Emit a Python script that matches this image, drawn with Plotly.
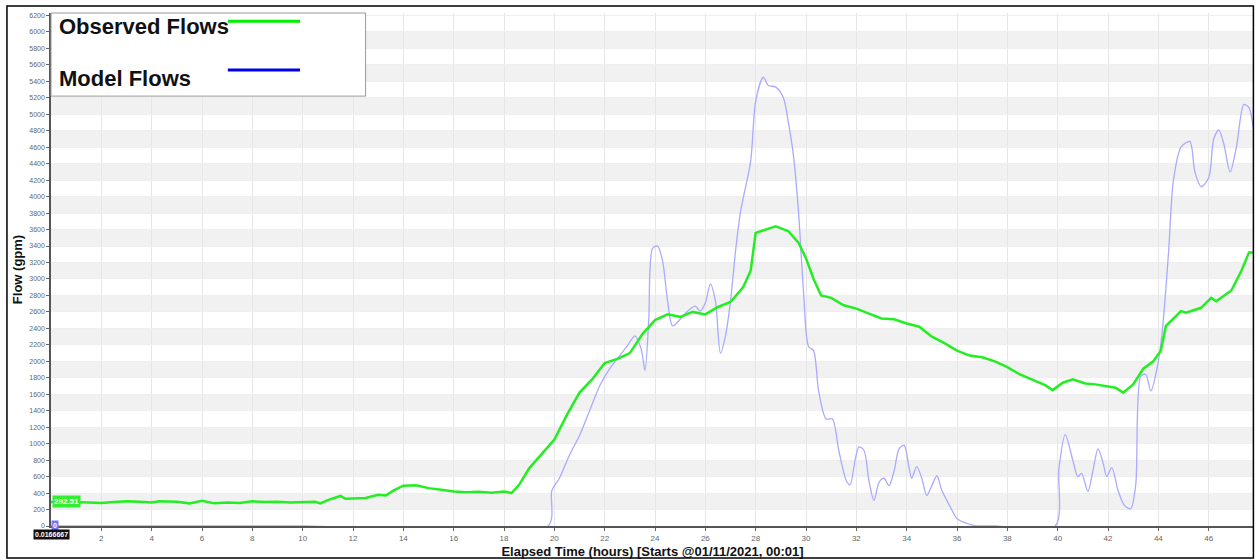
import plotly.graph_objects as go

# Observed flows (gpm) vs elapsed time (hours)
obs_hours = [0, 0.5, 1, 1.5, 2, 2.5, 3, 3.5, 4, 4.3, 5, 5.5, 6, 6.5, 7, 7.5, 8, 8.5, 9, 9.5,
             10, 10.5, 10.7, 11, 11.5, 11.7, 12, 12.5, 13, 13.3, 13.6, 14, 14.5, 15, 15.5, 16,
             16.5, 17, 17.5, 18, 18.3, 18.6, 19, 19.5, 20, 20.5, 21, 21.5, 22, 22.5, 23, 23.5,
             24, 24.5, 25, 25.5, 26, 26.5, 27, 27.5, 27.8, 28, 28.4, 28.8, 29.3, 29.7, 30, 30.3,
             30.6, 31, 31.5, 32, 32.5, 33, 33.5, 34, 34.5, 35, 35.5, 36, 36.5, 37, 37.5, 38,
             38.5, 39, 39.5, 39.8, 40.2, 40.6, 41.1, 41.5, 41.9, 42.3, 42.6, 43, 43.4, 43.8,
             44.1, 44.3, 44.9, 45.1, 45.7, 46.1, 46.3, 46.9, 47.3, 47.6, 47.8]
obs_flow = [292.51, 295, 290, 285, 280, 290, 300, 295, 285, 300, 295, 275, 305, 275, 285, 280,
            300, 290, 295, 285, 290, 295, 275, 315, 365, 330, 335, 340, 380, 370, 430, 490,
            495, 460, 440, 420, 410, 415, 405, 420, 400, 500, 700, 880, 1050, 1350, 1620, 1780,
            1980, 2030, 2100, 2330, 2500, 2570, 2540, 2600, 2570, 2660, 2720, 2900, 3100, 3560,
            3600, 3640, 3580, 3440, 3250, 3000, 2800, 2770, 2680, 2640, 2580, 2520, 2510, 2460,
            2420, 2300, 2220, 2130, 2070, 2050, 2000, 1930, 1840, 1770, 1710, 1650, 1740, 1780,
            1730, 1720, 1700, 1680, 1620, 1720, 1910, 2000, 2130, 2430, 2610, 2590, 2650, 2770,
            2730, 2860, 3100, 3320, 3320]

# Model flows (gpm)
mod_hours = [0, 10, 19.75, 19.9, 20.2, 20.6, 21.0, 21.4, 21.8, 22.2, 22.6, 22.9, 23.2, 23.45,
             23.6, 23.75, 23.9, 24.1, 24.3, 24.5, 24.7, 25.0, 25.3, 25.6, 25.8, 26.0, 26.2,
             26.4, 26.6, 26.8, 27.0, 27.2, 27.4, 27.8, 28.0, 28.3, 28.5, 28.8, 29.1, 29.3, 29.5,
             29.7, 29.9, 30.1, 30.3, 30.5, 30.8, 31.05, 31.3, 31.6, 31.75, 31.95, 32.1, 32.3,
             32.5, 32.7, 32.9, 33.1, 33.3, 33.5, 33.7, 33.9, 34.1, 34.2, 34.4, 34.6, 34.8, 35.0,
             35.2, 35.4, 35.7, 36.0, 36.3, 36.7, 37.5, 39.9, 40.05, 40.3, 40.6, 40.8, 40.95,
             41.2, 41.4, 41.6, 41.8, 41.95, 42.15, 42.4, 42.65, 42.9, 43.1, 43.3, 43.5, 43.7,
             43.95, 44.15, 44.4, 44.6, 44.9, 45.25, 45.45, 45.7, 46.0, 46.2, 46.4, 46.6, 46.85,
             47.1, 47.4, 47.6, 47.8]
mod_flow = [0, 0, 0, 430, 580, 860, 1100, 1400, 1700, 1910, 2070, 2190, 2310, 2150,
            1890, 2490, 3370, 3400, 3220, 2730, 2430, 2510, 2610, 2670, 2610, 2710, 2940,
            2730, 2100, 2310, 2730, 3340, 3820, 4430, 5160, 5450, 5350, 5330, 5200, 4900, 4500,
            3820, 2850, 2180, 2130, 1640, 1300, 1300, 920, 550, 500, 800, 960, 920,
            550, 310, 530, 580, 490, 670, 940, 980, 700, 580, 720, 580, 370, 490,
            610, 430, 250, 90, 40, 5, 0, 0, 700, 1110, 800, 600, 640,
            420, 670, 940, 770, 600, 710, 430, 250, 210, 500, 1820, 1840, 1640,
            1920, 2350, 3300, 4200, 4600, 4670, 4300, 4120, 4230, 4700, 4810, 4640, 4300,
            4600, 5120, 5080, 4760]

start_time_label = "0.0166667"
y_ticks = list(range(0, 6201, 200))
x_ticks = list(range(2, 47, 2))

FONT = "Liberation Sans, Arial, sans-serif"

fig = go.Figure()

# alternating grey bands
band_shapes = []
for lo in range(200, 6200, 400):
    band_shapes.append(dict(type="rect", xref="paper", yref="y", x0=0, x1=1, y0=lo, y1=lo + 200,
                            fillcolor="#f1f1f1", line=dict(width=0), layer="below"))

fig.add_trace(go.Scatter(x=mod_hours, y=mod_flow, mode="lines", name="Model Flows",
                         line=dict(color="#aaaaff", width=1.3, shape="spline", smoothing=0.8),
                         showlegend=False))
fig.add_trace(go.Scatter(x=obs_hours, y=obs_flow, mode="lines", name="Observed Flows",
                         line=dict(color="#22ee22", width=2.5), showlegend=False))

shapes = band_shapes + [
    # outer frame
    dict(type="rect", xref="paper", yref="paper", x0=-0.0366, x1=0.9995, y0=-0.0624, y1=1.0137,
         line=dict(color="black", width=1.5), fillcolor="rgba(0,0,0,0)"),
    # legend box
    dict(type="rect", xref="paper", yref="paper", x0=0, x1=0.2615, y0=0.838, y1=1.0,
         line=dict(color="#999999", width=1), fillcolor="white", layer="above"),
    dict(type="line", xref="paper", yref="paper", x0=0.147, x1=0.207, y0=0.984, y1=0.984,
         line=dict(color="#00ee00", width=3), layer="above"),
    dict(type="line", xref="paper", yref="paper", x0=0.147, x1=0.207, y0=0.889, y1=0.889,
         line=dict(color="#0000ee", width=3), layer="above"),
]

annotations = [
    dict(text="<b>Observed Flows</b>", xref="paper", yref="paper", x=0.005, y=0.973,
         xanchor="left", yanchor="middle", showarrow=False,
         font=dict(family=FONT, size=22, color="#111111")),
    dict(text="<b>Model Flows</b>", xref="paper", yref="paper", x=0.005, y=0.873,
         xanchor="left", yanchor="middle", showarrow=False,
         font=dict(family=FONT, size=22, color="#111111")),
    dict(text=f"<b>{obs_flow[0]:.2f}</b>", x=obs_hours[0], y=obs_flow[0],
         xanchor="left", yanchor="middle", xshift=1, showarrow=False, bgcolor="#33ee33",
         font=dict(family=FONT, size=8, color="white"), borderpad=1),
    dict(text=f"<b>{mod_flow[0]}</b>", x=mod_hours[0], y=mod_flow[0], xanchor="left",
         yanchor="middle", xshift=0, yshift=1, showarrow=False, bgcolor="#7777ff",
         font=dict(family=FONT, size=7, color="white"), borderpad=1),
    dict(text=f"<b>{start_time_label}</b>", x=0, xref="x", y=0, yref="paper", xanchor="center",
         yanchor="top", yshift=-3, showarrow=False, bgcolor="#111111",
         font=dict(family=FONT, size=7, color="white"), borderpad=1),
]

fig.update_layout(
    width=1257, height=560,
    margin=dict(l=51, r=3, t=13, b=34),
    paper_bgcolor="white", plot_bgcolor="white",
    shapes=shapes, annotations=annotations,
    showlegend=False,
    xaxis=dict(range=[0, 47.8], tickvals=x_ticks, ticks="outside", ticklen=3,
               tickcolor="#666666", showline=True, linecolor="#555555", linewidth=2,
               showgrid=True, gridcolor="#e6e6e6", gridwidth=1, zeroline=False,
               tickfont=dict(family=FONT, size=8, color="#666666"),
               title=dict(text="<b>Elapsed Time (hours) [Starts @01/11/2021, 00:01]</b>",
                          font=dict(family=FONT, size=13, color="#111111"),
                          standoff=5)),
    yaxis=dict(range=[0, 6230], tickvals=y_ticks, ticks="outside", ticklen=3,
               tickcolor="#666666", showline=True, linecolor="#555555", linewidth=1.5,
               showgrid=True, gridcolor="#eeeeee", gridwidth=1, zeroline=False,
               tickfont=dict(family=FONT, size=7, color="#666666"),
               title=dict(text="<b>Flow (gpm)</b>",
                          font=dict(family=FONT, size=13, color="#111111"),
                          standoff=4)),
)

fig.write_html("out.html", config={"displayModeBar": False},
               post_script="document.body.style.margin='0';document.body.style.overflow='hidden';")
